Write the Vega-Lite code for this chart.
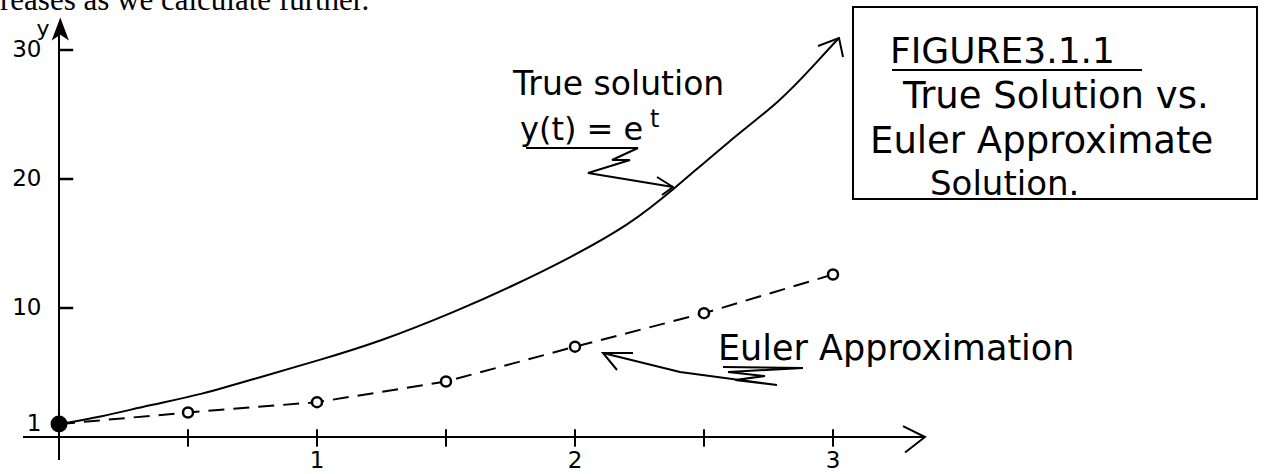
{
  "$schema": "https://vega.github.io/schema/vega-lite/v6.json",
  "width": 1266,
  "height": 474,
  "autosize": {"type": "none"},
  "padding": 0,
  "background": "white",
  "config": {"view": {"stroke": null}},
  "datasets": {
    "exact": [
      {"t": 0, "y": 1.0}, {"t": 0.16, "y": 1.55}, {"t": 0.353, "y": 2.48}, {"t": 0.547, "y": 3.26},
      {"t": 0.78, "y": 4.65}, {"t": 1.01, "y": 5.97}, {"t": 1.24, "y": 7.36}, {"t": 1.55, "y": 9.84},
      {"t": 1.75, "y": 11.63}, {"t": 1.98, "y": 13.88}, {"t": 2.21, "y": 16.43}, {"t": 2.38, "y": 19.15},
      {"t": 2.6, "y": 23.0}, {"t": 2.8, "y": 26.1}, {"t": 2.92, "y": 28.7}, {"t": 3.023, "y": 30.93}
    ],
    "euler": [
      {"t": 0, "y": 1.0}, {"t": 0.5, "y": 1.9}, {"t": 1, "y": 2.7}, {"t": 1.5, "y": 4.3},
      {"t": 2, "y": 7.0}, {"t": 2.5, "y": 9.6}, {"t": 3, "y": 12.6}
    ],
    "strokes": [
      {"path": "xarrow", "i": 0, "t": 3.2713, "y": 0.85},
      {"path": "xarrow", "i": 1, "t": 3.3566, "y": 0},
      {"path": "xarrow", "i": 2, "t": 3.2791, "y": -1.2},
      {"path": "curvehead", "i": 0, "t": 2.9419, "y": 30.31},
      {"path": "curvehead", "i": 1, "t": 3.0233, "y": 30.93},
      {"path": "curvehead", "i": 2, "t": 3.0388, "y": 29.46},
      {"path": "truezig", "i": 0, "t": 1.8101, "y": 22.403},
      {"path": "truezig", "i": 1, "t": 2.2442, "y": 22.403},
      {"path": "truezig", "i": 2, "t": 2.1434, "y": 21.473},
      {"path": "truezig", "i": 3, "t": 2.2132, "y": 21.473},
      {"path": "truezig", "i": 4, "t": 2.0504, "y": 20.465},
      {"path": "truezig", "i": 5, "t": 2.3798, "y": 19.38},
      {"path": "truehead", "i": 0, "t": 2.3178, "y": 20.155},
      {"path": "truehead", "i": 1, "t": 2.3798, "y": 19.38},
      {"path": "truehead", "i": 2, "t": 2.3372, "y": 18.76},
      {"path": "eulerzig", "i": 0, "t": 2.5736, "y": 5.426},
      {"path": "eulerzig", "i": 1, "t": 2.8837, "y": 5.349},
      {"path": "eulerzig", "i": 2, "t": 2.593, "y": 5.039},
      {"path": "eulerzig", "i": 3, "t": 2.7364, "y": 4.729},
      {"path": "eulerzig", "i": 4, "t": 2.6202, "y": 4.419},
      {"path": "eulerzig", "i": 5, "t": 2.7829, "y": 4.031},
      {"path": "eulerzig", "i": 6, "t": 2.407, "y": 5.039},
      {"path": "eulerzig", "i": 7, "t": 2.1085, "y": 6.512},
      {"path": "eulerhead", "i": 0, "t": 2.2248, "y": 6.512},
      {"path": "eulerhead", "i": 1, "t": 2.1085, "y": 6.512},
      {"path": "eulerhead", "i": 2, "t": 2.1628, "y": 5.194},
      {"path": "figline", "i": 0, "t": 3.2287, "y": 28.45},
      {"path": "figline", "i": 1, "t": 4.1977, "y": 28.45}
    ]
  },
  "layer": [
    {
      "data": {"values": [{"note": "reases as we calculate further."}]},
      "mark": {"type": "text", "font": "Liberation Serif", "fontSize": 31, "align": "left", "baseline": "alphabetic", "color": "black"},
      "encoding": {
        "x": {"datum": -0.2287, "type": "quantitative", "scale": {"domain": [-0.2287, 4.6783], "nice": false, "zero": false}, "axis": null},
        "y": {"datum": 33.1, "type": "quantitative", "scale": {"domain": [-2.8682, 33.876], "nice": false, "zero": false}, "axis": null},
        "text": {"field": "note"}
      }
    },
    {
      "data": {"values": [{}]},
      "mark": {"type": "rule", "color": "black", "strokeWidth": 2},
      "encoding": {
        "x": {"datum": -0.1395, "type": "quantitative", "scale": {"domain": [-0.2287, 4.6783], "nice": false, "zero": false}, "axis": null},
        "x2": {"datum": 3.3566},
        "y": {"datum": 0, "type": "quantitative", "scale": {"domain": [-2.8682, 33.876], "nice": false, "zero": false}, "axis": null}
      }
    },
    {
      "data": {"values": [{}]},
      "mark": {"type": "rule", "color": "black", "strokeWidth": 2},
      "encoding": {
        "x": {"datum": 0, "type": "quantitative", "scale": {"domain": [-0.2287, 4.6783], "nice": false, "zero": false}, "axis": null},
        "y": {"datum": -1.783, "type": "quantitative", "scale": {"domain": [-2.8682, 33.876], "nice": false, "zero": false}, "axis": null},
        "y2": {"datum": 31.5}
      }
    },
    {
      "data": {"values": [{}]},
      "mark": {"type": "point", "shape": "M-0.75,1L0,-1L0.75,1L0,0.5Z", "filled": true, "color": "black", "size": 529, "opacity": 1},
      "encoding": {
        "x": {"datum": 0.005, "type": "quantitative", "scale": {"domain": [-0.2287, 4.6783], "nice": false, "zero": false}, "axis": null},
        "y": {"datum": 31.63, "type": "quantitative", "scale": {"domain": [-2.8682, 33.876], "nice": false, "zero": false}, "axis": null}
      }
    },
    {
      "data": {"values": [{"t": 0.5}, {"t": 1}, {"t": 1.5}, {"t": 2}, {"t": 2.5}, {"t": 3}]},
      "mark": {"type": "rule", "color": "black", "strokeWidth": 2},
      "encoding": {
        "x": {"field": "t", "type": "quantitative", "scale": {"domain": [-0.2287, 4.6783], "nice": false, "zero": false}, "axis": null},
        "y": {"datum": 0.6, "type": "quantitative", "scale": {"domain": [-2.8682, 33.876], "nice": false, "zero": false}, "axis": null},
        "y2": {"datum": -0.75}
      }
    },
    {
      "data": {"values": [{"v": 10}, {"v": 20}, {"v": 30}]},
      "mark": {"type": "rule", "color": "black", "strokeWidth": 2.5},
      "encoding": {
        "x": {"datum": 0, "type": "quantitative", "scale": {"domain": [-0.2287, 4.6783], "nice": false, "zero": false}, "axis": null},
        "x2": {"datum": 0.055},
        "y": {"field": "v", "type": "quantitative", "scale": {"domain": [-2.8682, 33.876], "nice": false, "zero": false}, "axis": null}
      }
    },
    {
      "data": {"values": [{"v": 1}, {"v": 10}, {"v": 20}, {"v": 30}]},
      "mark": {"type": "text", "font": "DejaVu Sans", "fontSize": 23, "align": "right", "baseline": "middle", "color": "black"},
      "encoding": {
        "x": {"datum": -0.068, "type": "quantitative", "scale": {"domain": [-0.2287, 4.6783], "nice": false, "zero": false}, "axis": null},
        "y": {"field": "v", "type": "quantitative", "scale": {"domain": [-2.8682, 33.876], "nice": false, "zero": false}, "axis": null},
        "text": {"field": "v", "type": "quantitative"}
      }
    },
    {
      "data": {"values": [{"t": 1}, {"t": 2}, {"t": 3}]},
      "mark": {"type": "text", "font": "DejaVu Sans", "fontSize": 23, "align": "center", "baseline": "middle", "color": "black"},
      "encoding": {
        "x": {"field": "t", "type": "quantitative", "scale": {"domain": [-0.2287, 4.6783], "nice": false, "zero": false}, "axis": null},
        "y": {"datum": -1.85, "type": "quantitative", "scale": {"domain": [-2.8682, 33.876], "nice": false, "zero": false}, "axis": null},
        "text": {"field": "t", "type": "quantitative"}
      }
    },
    {
      "data": {"values": [{"label": "y"}]},
      "mark": {"type": "text", "font": "DejaVu Sans", "fontSize": 22, "align": "center", "baseline": "middle", "color": "black"},
      "encoding": {
        "x": {"datum": -0.062, "type": "quantitative", "scale": {"domain": [-0.2287, 4.6783], "nice": false, "zero": false}, "axis": null},
        "y": {"datum": 31.6, "type": "quantitative", "scale": {"domain": [-2.8682, 33.876], "nice": false, "zero": false}, "axis": null},
        "text": {"field": "label"}
      }
    },
    {
      "data": {"name": "exact"},
      "mark": {"type": "line", "color": "black", "strokeWidth": 2, "interpolate": "basis"},
      "encoding": {
        "x": {"field": "t", "type": "quantitative", "scale": {"domain": [-0.2287, 4.6783], "nice": false, "zero": false}, "axis": null},
        "y": {"field": "y", "type": "quantitative", "scale": {"domain": [-2.8682, 33.876], "nice": false, "zero": false}, "axis": null}
      }
    },
    {
      "data": {"name": "euler"},
      "mark": {"type": "line", "color": "black", "strokeWidth": 2, "strokeDash": [16, 9]},
      "encoding": {
        "x": {"field": "t", "type": "quantitative", "scale": {"domain": [-0.2287, 4.6783], "nice": false, "zero": false}, "axis": null},
        "y": {"field": "y", "type": "quantitative", "scale": {"domain": [-2.8682, 33.876], "nice": false, "zero": false}, "axis": null}
      }
    },
    {
      "data": {"name": "euler"},
      "transform": [{"filter": "datum.t > 0"}],
      "mark": {"type": "point", "shape": "circle", "filled": true, "fill": "white", "stroke": "black", "strokeWidth": 2.5, "size": 100, "opacity": 1},
      "encoding": {
        "x": {"field": "t", "type": "quantitative", "scale": {"domain": [-0.2287, 4.6783], "nice": false, "zero": false}, "axis": null},
        "y": {"field": "y", "type": "quantitative", "scale": {"domain": [-2.8682, 33.876], "nice": false, "zero": false}, "axis": null}
      }
    },
    {
      "data": {"name": "euler"},
      "transform": [{"filter": "datum.t == 0"}],
      "mark": {"type": "point", "shape": "circle", "filled": true, "color": "black", "size": 290, "opacity": 1},
      "encoding": {
        "x": {"field": "t", "type": "quantitative", "scale": {"domain": [-0.2287, 4.6783], "nice": false, "zero": false}, "axis": null},
        "y": {"field": "y", "type": "quantitative", "scale": {"domain": [-2.8682, 33.876], "nice": false, "zero": false}, "axis": null}
      }
    },
    {
      "data": {"name": "strokes"},
      "mark": {"type": "line", "color": "black", "strokeWidth": 2},
      "encoding": {
        "x": {"field": "t", "type": "quantitative", "scale": {"domain": [-0.2287, 4.6783], "nice": false, "zero": false}, "axis": null},
        "y": {"field": "y", "type": "quantitative", "scale": {"domain": [-2.8682, 33.876], "nice": false, "zero": false}, "axis": null},
        "detail": {"field": "path"},
        "order": {"field": "i", "type": "quantitative"}
      }
    },
    {
      "data": {"values": [{"note": "True solution"}]},
      "mark": {"type": "text", "font": "DejaVu Sans", "fontSize": 33, "align": "left", "baseline": "alphabetic", "color": "black"},
      "encoding": {
        "x": {"datum": 1.7597, "type": "quantitative", "scale": {"domain": [-0.2287, 4.6783], "nice": false, "zero": false}, "axis": null},
        "y": {"datum": 26.5, "type": "quantitative", "scale": {"domain": [-2.8682, 33.876], "nice": false, "zero": false}, "axis": null},
        "text": {"field": "note"}
      }
    },
    {
      "data": {"values": [{"note": "y(t) = e"}]},
      "mark": {"type": "text", "font": "DejaVu Sans", "fontSize": 32, "align": "left", "baseline": "alphabetic", "color": "black"},
      "encoding": {
        "x": {"datum": 1.7868, "type": "quantitative", "scale": {"domain": [-0.2287, 4.6783], "nice": false, "zero": false}, "axis": null},
        "y": {"datum": 23.02, "type": "quantitative", "scale": {"domain": [-2.8682, 33.876], "nice": false, "zero": false}, "axis": null},
        "text": {"field": "note"}
      }
    },
    {
      "data": {"values": [{"note": "t"}]},
      "mark": {"type": "text", "font": "DejaVu Sans", "fontSize": 24, "align": "left", "baseline": "alphabetic", "color": "black"},
      "encoding": {
        "x": {"datum": 2.2907, "type": "quantitative", "scale": {"domain": [-0.2287, 4.6783], "nice": false, "zero": false}, "axis": null},
        "y": {"datum": 24.03, "type": "quantitative", "scale": {"domain": [-2.8682, 33.876], "nice": false, "zero": false}, "axis": null},
        "text": {"field": "note"}
      }
    },
    {
      "data": {"values": [{"note": "Euler Approximation"}]},
      "mark": {"type": "text", "font": "DejaVu Sans", "fontSize": 35, "align": "left", "baseline": "alphabetic", "color": "black"},
      "encoding": {
        "x": {"datum": 2.5543, "type": "quantitative", "scale": {"domain": [-0.2287, 4.6783], "nice": false, "zero": false}, "axis": null},
        "y": {"datum": 5.969, "type": "quantitative", "scale": {"domain": [-2.8682, 33.876], "nice": false, "zero": false}, "axis": null},
        "text": {"field": "note"}
      }
    },
    {
      "data": {"values": [{}]},
      "mark": {"type": "rect", "fill": null, "stroke": "black", "strokeWidth": 2},
      "encoding": {
        "x": {"datum": 3.0775, "type": "quantitative", "scale": {"domain": [-0.2287, 4.6783], "nice": false, "zero": false}, "axis": null},
        "x2": {"datum": 4.6434},
        "y": {"datum": 33.33, "type": "quantitative", "scale": {"domain": [-2.8682, 33.876], "nice": false, "zero": false}, "axis": null},
        "y2": {"datum": 18.45}
      }
    },
    {
      "data": {"values": [{"note": "FIGURE3.1.1"}]},
      "mark": {"type": "text", "font": "DejaVu Sans", "fontSize": 36, "align": "left", "baseline": "alphabetic", "color": "black"},
      "encoding": {
        "x": {"datum": 3.2209, "type": "quantitative", "scale": {"domain": [-0.2287, 4.6783], "nice": false, "zero": false}, "axis": null},
        "y": {"datum": 28.992, "type": "quantitative", "scale": {"domain": [-2.8682, 33.876], "nice": false, "zero": false}, "axis": null},
        "text": {"field": "note"}
      }
    },
    {
      "data": {"values": [{"note": "True Solution vs."}]},
      "mark": {"type": "text", "font": "DejaVu Sans", "fontSize": 37, "align": "left", "baseline": "alphabetic", "color": "black"},
      "encoding": {
        "x": {"datum": 3.2713, "type": "quantitative", "scale": {"domain": [-0.2287, 4.6783], "nice": false, "zero": false}, "axis": null},
        "y": {"datum": 25.5, "type": "quantitative", "scale": {"domain": [-2.8682, 33.876], "nice": false, "zero": false}, "axis": null},
        "text": {"field": "note"}
      }
    },
    {
      "data": {"values": [{"note": "Euler Approximate"}]},
      "mark": {"type": "text", "font": "DejaVu Sans", "fontSize": 37, "align": "left", "baseline": "alphabetic", "color": "black"},
      "encoding": {
        "x": {"datum": 3.1434, "type": "quantitative", "scale": {"domain": [-0.2287, 4.6783], "nice": false, "zero": false}, "axis": null},
        "y": {"datum": 22.02, "type": "quantitative", "scale": {"domain": [-2.8682, 33.876], "nice": false, "zero": false}, "axis": null},
        "text": {"field": "note"}
      }
    },
    {
      "data": {"values": [{"note": "Solution."}]},
      "mark": {"type": "text", "font": "DejaVu Sans", "fontSize": 34, "align": "left", "baseline": "alphabetic", "color": "black"},
      "encoding": {
        "x": {"datum": 3.376, "type": "quantitative", "scale": {"domain": [-0.2287, 4.6783], "nice": false, "zero": false}, "axis": null},
        "y": {"datum": 18.76, "type": "quantitative", "scale": {"domain": [-2.8682, 33.876], "nice": false, "zero": false}, "axis": null},
        "text": {"field": "note"}
      }
    }
  ]
}
